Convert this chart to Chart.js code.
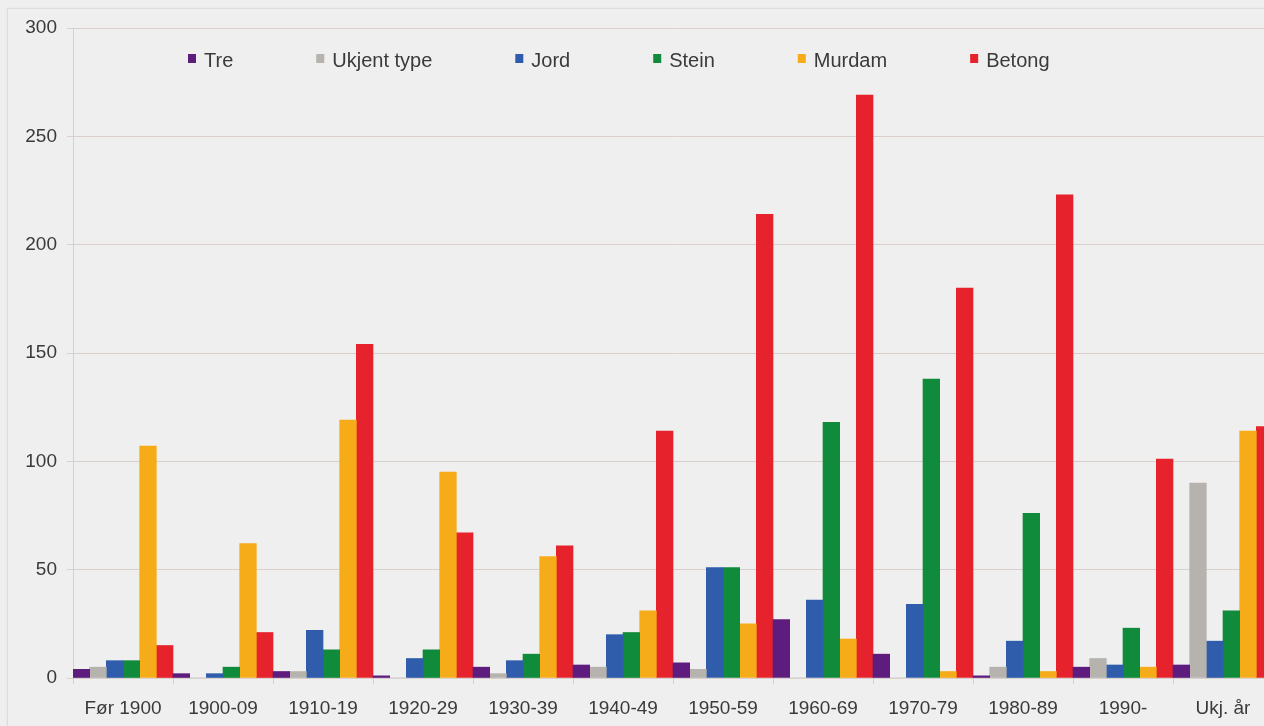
<!DOCTYPE html>
<html>
<head>
<meta charset="utf-8">
<script src="https://cdn.jsdelivr.net/npm/chart.js@4"></script>
<style>
  html, body { margin: 0; padding: 0; background: #efefef; overflow: hidden; width: 1264px; height: 726px; }
  #ramme { position: absolute; left: 7px; top: 8px; width: 1400px; height: 800px; border: 1px solid #dcdcdc; box-shadow: 0 0 2px #e2e2e2; }
  #graf { position: absolute; left: 0; top: 0; }
</style>
</head>
<body>
<div id="ramme"></div>
<canvas id="graf" width="1290" height="726"></canvas>
<script>
// Perioder (kategorier)
const perioder = ['Før 1900', '1900-09', '1910-19', '1920-29', '1930-39', '1940-49', '1950-59', '1960-69', '1970-79', '1980-89', '1990-', 'Ukj. år'];

// Antall dammer per type
const tre    = [4, 2, 3, 1, 5, 6, 7, 27, 11, 1, 5, 6];
const ukjent = [5, 0, 3, 0, 2, 5, 4, 0, 0, 5, 9, 90];
const jord   = [8, 2, 22, 9, 8, 20, 51, 36, 34, 17, 6, 17];
const stein  = [8, 5, 13, 13, 11, 21, 51, 118, 138, 76, 23, 31];
const murdam = [107, 62, 119, 95, 56, 31, 25, 18, 3, 3, 5, 114];
const betong = [15, 21, 154, 67, 61, 114, 214, 269, 180, 223, 101, 116];

const yTicks = [0, 50, 100, 150, 200, 250, 300];

const skrift = "'Liberation Sans', Arial, sans-serif";
const tekstfarge = '#3a3a3a';
const linjefarge = '#d9d0cc';

// Egen forklaring tegnet inne i plottet, slik som originalen
const forklaring = {
    id: 'forklaring',
    afterDraw(chart) {
        const ctx = chart.ctx;
        ctx.save();
        ctx.font = '20px ' + skrift;
        ctx.textBaseline = 'middle';
        let x = 188; // start for første boks
        const y = 61;
        chart.data.datasets.forEach(ds => {
            ctx.fillStyle = ds.backgroundColor;
            ctx.fillRect(x, y - 7, 8, 9);
            ctx.fillStyle = tekstfarge;
            ctx.fillText(ds.label, x + 16, y);
            x += 16 + ctx.measureText(ds.label).width + 83;
        });
        ctx.restore();
    }
};

const ctx = document.getElementById('graf').getContext('2d');
const graf = new Chart(ctx, {
    type: 'bar',
    data: {
        labels: perioder,
        datasets: [
            { label: 'Tre', data: tre, backgroundColor: '#5e1c7f' },
            { label: 'Ukjent type', data: ukjent, backgroundColor: '#b6b3af' },
            { label: 'Jord', data: jord, backgroundColor: '#2f5dab' },
            { label: 'Stein', data: stein, backgroundColor: '#108a3b' },
            { label: 'Murdam', data: murdam, backgroundColor: '#f6ac19' },
            { label: 'Betong', data: betong, backgroundColor: '#e6232c' },
        ]
    },
    options: {
        responsive: false,
        animation: false,
        layout: { padding: { top: 28, right: 17, bottom: 0, left: 0 } },
        datasets: { bar: { barPercentage: 1, categoryPercentage: 1 } },
        plugins: { legend: { display: false }, tooltip: { enabled: false } },
        scales: {
            x: {
                afterFit(scale) { scale.height = 48; },
                grid: { display: true, drawOnChartArea: false, drawTicks: true, tickLength: 6, color: linjefarge, offset: true },
                border: { color: linjefarge },
                ticks: { color: tekstfarge, font: { size: 19, family: skrift }, padding: 13, maxRotation: 0 }
            },
            y: {
                min: 0,
                max: 300,
                afterFit(scale) { scale.width = 73; },
                afterBuildTicks(scale) { scale.ticks = yTicks.map(v => ({ value: v })); },
                grid: { color: linjefarge, tickLength: 6 },
                border: { color: linjefarge },
                ticks: { color: tekstfarge, font: { size: 19, family: skrift }, padding: 10 }
            }
        }
    },
    plugins: [forklaring]
});
</script>
</body>
</html>
